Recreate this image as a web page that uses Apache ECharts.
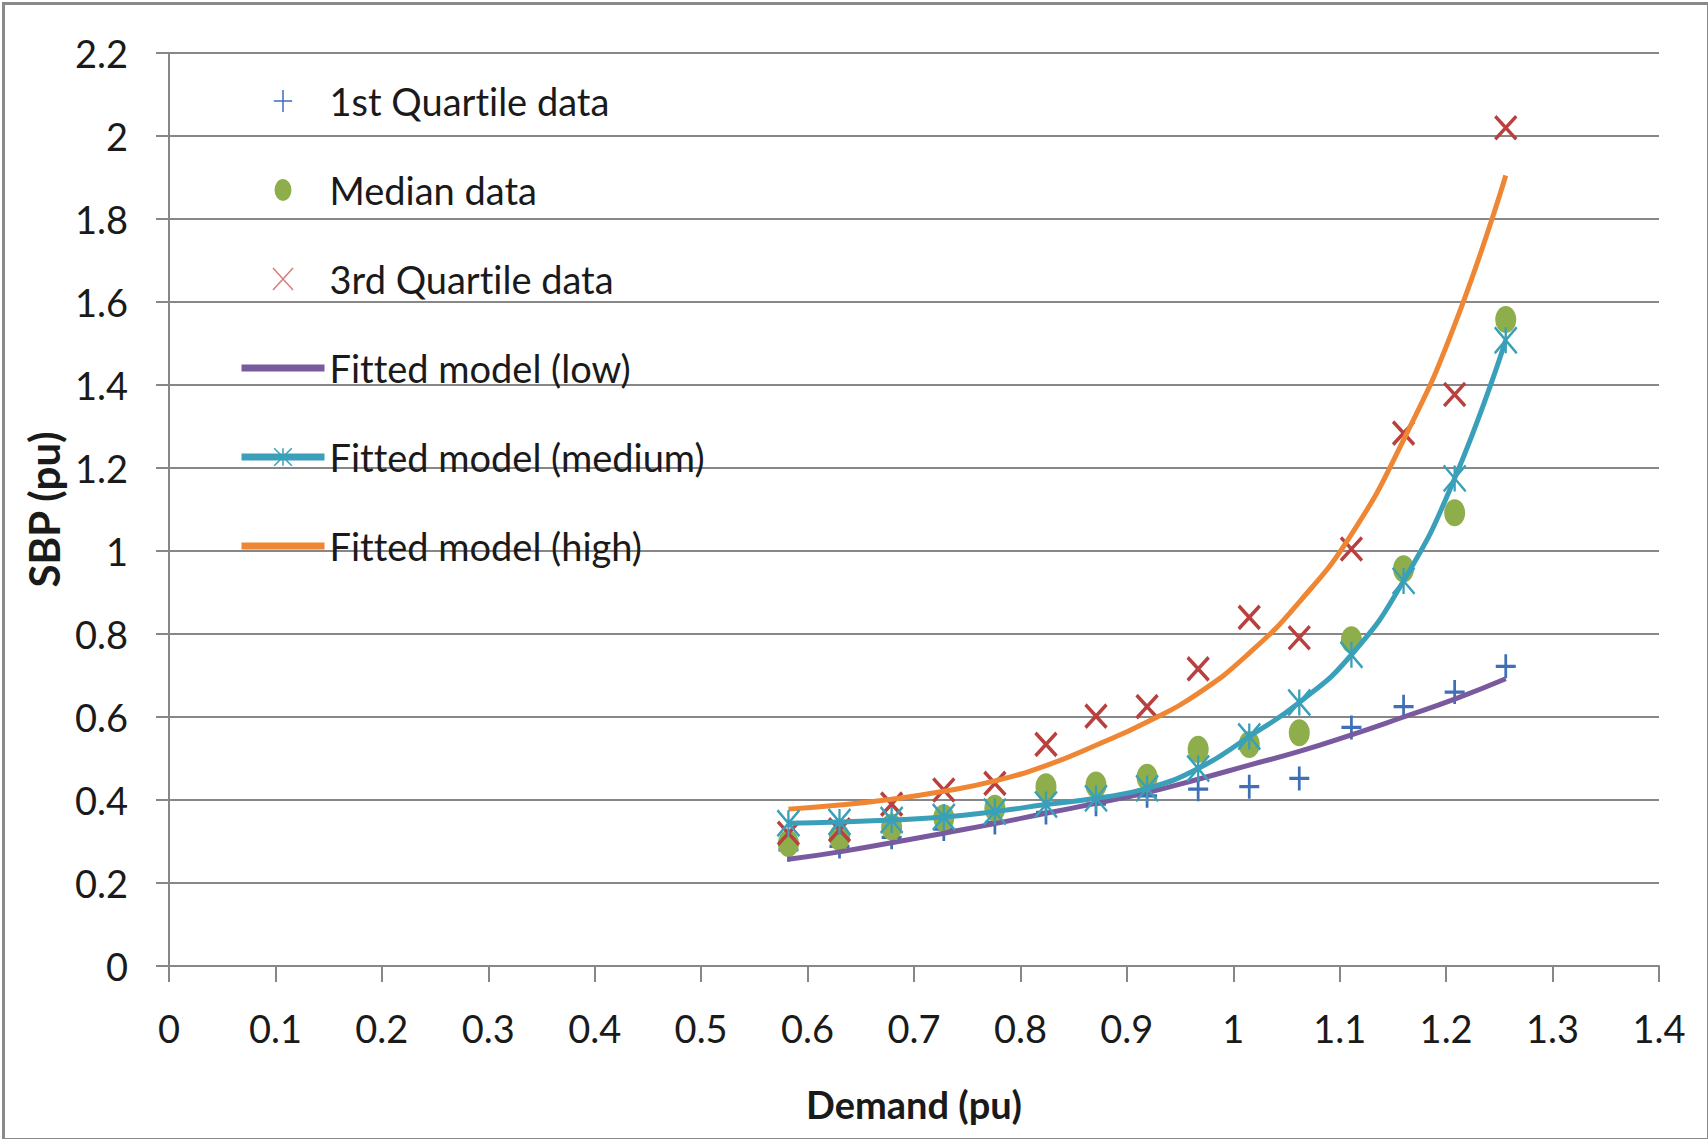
<!DOCTYPE html>
<html>
<head>
<meta charset="utf-8">
<script src="https://cdn.jsdelivr.net/npm/echarts@6/dist/echarts.min.js"></script>
<style>
  html, body { margin: 0; padding: 0; background: #ffffff; }
  #chart { width: 1708px; height: 1139px; }
  #chart text { font-variant-ligatures: none; font-feature-settings: "liga" 0, "clig" 0; }
</style>
</head>
<body>
<div id="chart"></div>
<script>
// Demand levels (pu) at which SBP was sampled and the models evaluated
const demand = [0.582, 0.630, 0.679, 0.728, 0.776, 0.824, 0.871, 0.919, 0.967, 1.015, 1.062, 1.111, 1.160, 1.208, 1.256];

// Observed SBP (pu)
const firstQuartile = [0.280, 0.288, 0.310, 0.330, 0.346, 0.370, 0.390, 0.410, 0.426, 0.432, 0.452, 0.575, 0.625, 0.660, 0.722];
const median        = [0.295, 0.310, 0.335, 0.357, 0.380, 0.432, 0.436, 0.455, 0.522, 0.534, 0.562, 0.786, 0.957, 1.092, 1.558];
const thirdQuartile = [0.320, 0.328, 0.390, 0.424, 0.440, 0.534, 0.602, 0.625, 0.716, 0.840, 0.791, 1.005, 1.284, 1.377, 2.020];

// Fitted model curves (pu)
const fitLow    = [0.257, 0.275, 0.297, 0.320, 0.343, 0.368, 0.392, 0.418, 0.450, 0.484, 0.517, 0.557, 0.600, 0.643, 0.692];
const fitMedium = [0.344, 0.347, 0.352, 0.359, 0.372, 0.389, 0.404, 0.428, 0.476, 0.553, 0.635, 0.750, 0.928, 1.175, 1.508];
const fitHigh   = [0.378, 0.388, 0.402, 0.421, 0.446, 0.483, 0.532, 0.588, 0.657, 0.754, 0.877, 1.040, 1.268, 1.545, 1.905];

// Axis ranges
const xRange = { min: 0, max: 1.4, step: 0.1 };
const yRange = { min: 0, max: 2.2, step: 0.2 };

const seriesNames = ['1st Quartile data', 'Median data', '3rd Quartile data',
                     'Fitted model (low)', 'Fitted model (medium)', 'Fitted model (high)'];

const FONT = 'Lato, "Liberation Sans", sans-serif';
const GRID_GREY = '#878787';

const C = {
  blue: '#3f6fb5', green: '#8dae4b', red: '#b8403e',
  purple: '#7a5a9e', teal: '#3aa0ba', orange: '#ee8633'
};

const SYM = {
  plus: 'path://M10,0V24M0,12H20',
  cross: 'path://M0,0L20,22M20,0L0,22',
  star: 'path://M0,0L22,26M22,0L0,26M11,0V26',
  dot: 'path://M0,13A10,13,0,1,1,20,13A10,13,0,1,1,0,13Z',
  bar: 'path://M0,0H83V7H0Z'
};

const pairs = ys => demand.map((x, i) => [x, ys[i]]);

const chart = echarts.init(document.getElementById('chart'), null, { renderer: 'svg' });

chart.setOption({
  backgroundColor: '#ffffff',
  animation: false,
  graphic: [{
    type: 'rect', left: 1, top: 1, z: 100,
    shape: { width: 1705, height: 1136 },
    style: { fill: 'none', stroke: '#8a8a8a', lineWidth: 3 }
  }],
  grid: { left: 169, right: 49, top: 53, bottom: 173, containLabel: false },
  legend: {
    orient: 'vertical', left: 238, top: 76, padding: 0,
    itemWidth: 83, itemHeight: 22, itemGap: 39,
    textStyle: { fontFamily: FONT, fontSize: 38, color: '#1a1a1a', lineHeight: 50 },
    data: [
      { name: seriesNames[0], itemStyle: { borderWidth: 1.5 } },
      { name: seriesNames[1] },
      { name: seriesNames[2], itemStyle: { borderWidth: 1.5, borderColor: '#d77d7b' } },
      { name: seriesNames[3], icon: SYM.bar },
      { name: seriesNames[4], itemStyle: { borderWidth: 1.5 }, lineStyle: { width: 7 } },
      { name: seriesNames[5], icon: SYM.bar }
    ]
  },
  xAxis: {
    type: 'value', min: xRange.min, max: xRange.max, interval: xRange.step,
    name: 'Demand (pu)', nameLocation: 'middle', nameGap: 119, nameMoveOverlap: false,
    nameTextStyle: { fontFamily: FONT, fontSize: 38, fontWeight: 'bold', color: '#1a1a1a' },
    axisLine: { show: true, lineStyle: { color: GRID_GREY, width: 2 } },
    axisTick: { show: true, inside: false, length: 16, lineStyle: { color: GRID_GREY, width: 2 } },
    axisLabel: { fontFamily: FONT, fontSize: 38, color: '#1a1a1a', margin: 43 },
    splitLine: { show: false }
  },
  yAxis: {
    type: 'value', min: yRange.min, max: yRange.max, interval: yRange.step,
    name: 'SBP (pu)', nameLocation: 'middle', nameGap: 104, nameMoveOverlap: false,
    nameTextStyle: { fontFamily: FONT, fontSize: 42, fontWeight: 'bold', color: '#1a1a1a' },
    axisLine: { show: true, lineStyle: { color: GRID_GREY, width: 2 } },
    axisTick: { show: true, inside: false, length: 13, lineStyle: { color: GRID_GREY, width: 2 } },
    axisLabel: { fontFamily: FONT, fontSize: 38, color: '#1a1a1a', margin: 41 },
    splitLine: { show: true, lineStyle: { color: GRID_GREY, width: 2 } }
  },
  series: [
    {
      name: seriesNames[3], type: 'line', data: pairs(fitLow), smooth: 0.5,
      symbol: 'none', lineStyle: { color: C.purple, width: 5 }, itemStyle: { color: C.purple }
    },
    {
      name: seriesNames[4], type: 'line', data: pairs(fitMedium), smooth: 0.5,
      symbol: SYM.star, symbolSize: [22, 26], showSymbol: true,
      lineStyle: { color: C.teal, width: 5 },
      itemStyle: { color: C.teal, borderColor: C.teal, borderWidth: 2.5 }
    },
    {
      name: seriesNames[5], type: 'line', data: pairs(fitHigh), smooth: 0.5,
      symbol: 'none', lineStyle: { color: C.orange, width: 5 }, itemStyle: { color: C.orange }
    },
    {
      name: seriesNames[0], type: 'scatter', data: pairs(firstQuartile),
      symbol: SYM.plus, symbolSize: [20, 24],
      itemStyle: { color: C.blue, borderColor: C.blue, borderWidth: 3, opacity: 1 }
    },
    {
      name: seriesNames[1], type: 'scatter', data: pairs(median),
      symbol: SYM.dot, symbolSize: [21, 27],
      itemStyle: { color: C.green, borderWidth: 0, opacity: 1 }
    },
    {
      name: seriesNames[2], type: 'scatter', data: pairs(thirdQuartile),
      symbol: SYM.cross, symbolSize: [21, 23],
      itemStyle: { color: C.red, borderColor: C.red, borderWidth: 3.5, opacity: 1 }
    }
  ]
});
</script>
</body>
</html>
